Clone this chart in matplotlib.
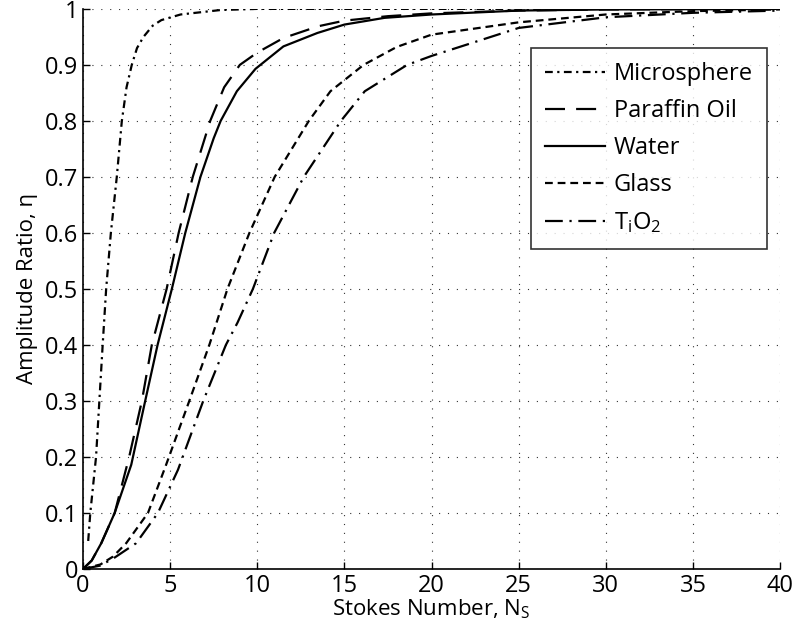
import matplotlib
matplotlib.use("Agg")
import matplotlib.pyplot as plt

plt.rcParams['font.family'] = ['Open Sans', 'DejaVu Sans']
plt.rcParams['mathtext.fontset'] = 'custom'
plt.rcParams['mathtext.rm'] = 'Open Sans'
plt.rcParams['mathtext.it'] = 'Open Sans'

# values
micro_x = [0.3, 0.42, 0.75, 0.94, 1.13, 1.33, 1.6, 1.94, 2.23, 2.5, 2.8, 3.1, 3.47, 4.0, 4.5, 5.6, 7.9, 10, 20, 30, 40]
micro_y = [0.05, 0.1, 0.2, 0.3, 0.4, 0.5, 0.6, 0.7, 0.8, 0.86, 0.9, 0.93, 0.95, 0.97, 0.98, 0.99, 0.998, 1.0, 1.0, 1.0, 1.0]

paraffin_x = [0, 0.5, 1.05, 1.82, 2.65, 3.38, 3.95, 4.8, 5.49, 6.3, 7.3, 8.1, 9.0, 10, 11.5, 13.5, 15, 17.5, 20, 25, 30, 40]
paraffin_y = [0, 0.015, 0.046, 0.1, 0.2, 0.3, 0.4, 0.5, 0.6, 0.7, 0.8, 0.86, 0.9, 0.922, 0.948, 0.969, 0.979, 0.987, 0.992, 0.997, 0.999, 1.0]

water_x = [0, 0.5, 1.05, 1.82, 2.77, 3.57, 4.28, 5.1, 5.87, 6.74, 7.5, 7.9, 8.83, 9.9, 11.5, 13.45, 15, 17.3, 20, 25, 30, 40]
water_y = [0, 0.015, 0.046, 0.1, 0.186, 0.3, 0.4, 0.5, 0.6, 0.7, 0.769, 0.8, 0.853, 0.893, 0.933, 0.957, 0.972, 0.984, 0.99, 0.997, 0.999, 1.0]

glass_x = [0, 1, 1.72, 2.48, 3.73, 4.77, 6.1, 7.25, 8.29, 9.55, 11.0, 12.96, 14.2, 16.1, 18, 20, 25, 30, 35, 40]
glass_y = [0, 0.008, 0.022, 0.046, 0.1, 0.186, 0.3, 0.4, 0.5, 0.6, 0.7, 0.8, 0.853, 0.9, 0.932, 0.954, 0.976, 0.99, 0.996, 0.999]

tio2_x = [0, 1, 1.8, 3.05, 4.3, 5.45, 6.9, 8.2, 8.87, 9.75, 10.97, 12.67, 14.8, 16.17, 18.6, 20, 25, 30, 35, 40]
tio2_y = [0, 0.006, 0.02, 0.046, 0.1, 0.177, 0.3, 0.4, 0.44, 0.5, 0.6, 0.7, 0.8, 0.853, 0.9, 0.916, 0.966, 0.985, 0.993, 0.997]

x_ticks = [0, 5, 10, 15, 20, 25, 30, 35, 40]
x_labels = ['0', '5', '10', '15', '20', '25', '30', '35', '40']
y_ticks = [0, 0.1, 0.2, 0.3, 0.4, 0.5, 0.6, 0.7, 0.8, 0.9, 1.0]
y_labels = ['0', '0.1', '0.2', '0.3', '0.4', '0.5', '0.6', '0.7', '0.8', '0.9', '1']

fig = plt.figure(figsize=(7.94, 6.35), dpi=100)
ax = fig.add_axes([0.1045, 0.104, 0.878, 0.882])

lw = 1.6
ax.plot(micro_x, micro_y, color='black', lw=lw, dashes=(3.5, 2, 1, 2), label='Microsphere')
ax.plot(paraffin_x, paraffin_y, color='black', lw=lw, dashes=(9, 5), label='Paraffin Oil')
ax.plot(water_x, water_y, color='black', lw=lw, label='Water')
ax.plot(glass_x, glass_y, color='black', lw=lw, dashes=(3.5, 2.2), label='Glass')
ax.plot(tio2_x, tio2_y, color='black', lw=lw, dashes=(8, 3, 1, 3), label=r'T$_{\rm i}$O$_{\rm 2}$')

ax.set_xlim(0, 40)
ax.set_ylim(0, 1)
ax.set_xticks(x_ticks)
ax.set_xticklabels(x_labels)
ax.set_yticks(y_ticks)
ax.set_yticklabels(y_labels)
ax.tick_params(direction='in', length=5, labelsize=17, width=1)
ax.spines['top'].set_visible(False)
ax.spines['right'].set_visible(False)
ax.spines['left'].set_linewidth(1.2)
ax.spines['bottom'].set_linewidth(1.2)
ax.grid(True, color='#333333', linestyle=(0, (1, 7)), linewidth=0.8)

ax.set_xlabel('Stokes Number, N$_{\\rm S}$', fontsize=16, labelpad=0)
ax.set_ylabel('Amplitude Ratio, η', fontsize=16, labelpad=5)

leg = ax.legend(loc='upper right', bbox_to_anchor=(0.981, 0.93), fontsize=17,
                frameon=True, fancybox=False, edgecolor='black', handlelength=2.55,
                handletextpad=0.35, labelspacing=0.55, borderpad=0.6, borderaxespad=0)
leg.get_frame().set_linewidth(1.2)

fig.savefig('out.png', dpi=100)
